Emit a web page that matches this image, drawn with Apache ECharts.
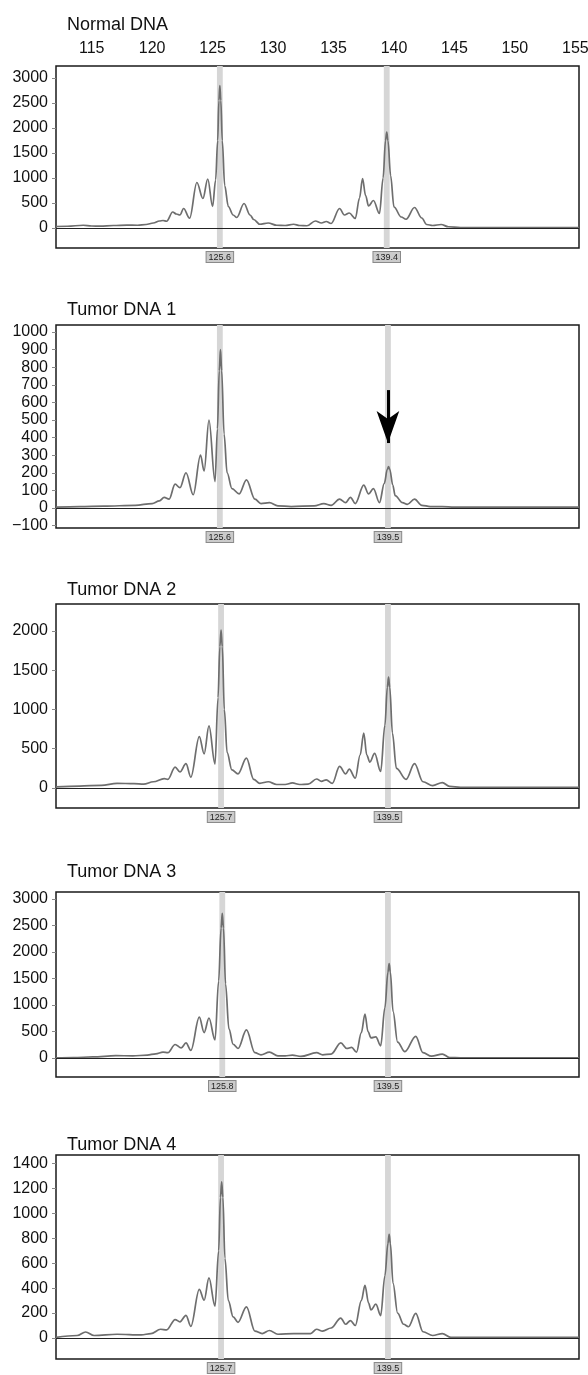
<!DOCTYPE html>
<html>
<head>
<meta charset="utf-8">
<title>Fragment analysis</title>
<script src="https://cdn.jsdelivr.net/npm/echarts@6/dist/echarts.min.js"></script>
<style>
  html, body { margin: 0; padding: 0; background: #fff; }
  #chart { width: 588px; height: 1375px; }
</style>
</head>
<body>
<div id="chart"></div>
<script>
// panel titles and the size axis (bp)
var titles = ['Normal DNA', 'Tumor DNA 1', 'Tumor DNA 2', 'Tumor DNA 3', 'Tumor DNA 4'];
var sizeTicks = [115, 120, 125, 130, 135, 140, 145, 150, 155];
var sizeMin = 112.05, sizeMax = 155.3;

// traces: [size (bp), signal (RFU)]
var normalDNA = [[112.05,30],[113.0,35],[114.3,55],[115.0,40],[115.7,38],[116.8,50],[117.9,58],[118.8,55],[119.5,70],[120.1,100],[120.6,140],[120.9,150],[121.2,135],[121.7,320],[122.0,280],[122.3,260],[122.6,390],[123.1,195],[123.7,910],[124.2,590],[124.6,980],[125.0,430],[125.25,960],[125.42,1750],[125.52,2550],[125.6,2850],[125.68,2550],[125.8,1750],[126.0,850],[126.3,430],[126.7,260],[127.0,210],[127.6,490],[128.1,260],[128.4,170],[128.9,75],[129.6,100],[130.3,55],[131.0,50],[131.7,75],[132.2,50],[132.8,45],[133.5,140],[134.0,100],[134.4,130],[134.8,90],[135.5,390],[135.9,260],[136.3,300],[136.8,190],[137.15,600],[137.4,990],[137.65,650],[137.9,440],[138.3,550],[138.8,290],[139.1,1000],[139.3,1750],[139.4,1920],[139.5,1750],[139.72,1050],[140.0,420],[140.6,220],[141.0,175],[141.7,410],[142.3,200],[142.7,70],[143.2,50],[143.9,70],[144.5,25],[145.5,10],[150.0,8],[155.3,8]];
var tumorDNA1 = [[112.05,5],[114.0,8],[116.0,10],[118.6,15],[120.0,25],[120.6,40],[121.0,60],[121.4,50],[121.9,135],[122.3,115],[122.8,200],[123.4,75],[124.0,300],[124.3,210],[124.7,500],[125.2,150],[125.4,450],[125.55,780],[125.65,900],[125.75,780],[125.95,420],[126.2,200],[126.6,110],[127.2,80],[127.8,160],[128.5,50],[129.0,25],[129.7,30],[130.4,12],[131.5,8],[133.4,12],[134.2,25],[134.8,15],[135.5,50],[136.0,30],[136.4,60],[136.8,25],[137.5,130],[137.9,80],[138.3,110],[138.8,30],[139.2,140],[139.45,220],[139.55,235],[139.65,220],[139.9,130],[140.1,70],[140.7,30],[141.1,20],[141.7,50],[142.3,15],[143.0,8],[144.0,8],[145.0,5],[155.3,5]];
var tumorDNA2 = [[112.05,15],[114.0,25],[115.8,35],[117.1,60],[118.5,55],[119.3,50],[120.1,80],[121.0,120],[121.3,110],[121.9,265],[122.3,205],[122.8,310],[123.2,140],[123.9,655],[124.3,435],[124.7,790],[125.2,305],[125.45,1150],[125.6,1800],[125.7,2010],[125.8,1800],[125.97,1000],[126.2,450],[126.6,230],[127.1,180],[127.8,380],[128.4,110],[128.9,60],[129.6,80],[130.3,45],[131.0,45],[131.6,65],[132.2,45],[132.9,50],[133.6,115],[134.0,85],[134.4,105],[134.9,60],[135.5,275],[136.0,180],[136.3,240],[136.8,125],[137.2,420],[137.5,700],[137.75,420],[138.0,330],[138.4,440],[138.9,210],[139.25,800],[139.45,1280],[139.55,1410],[139.65,1280],[139.87,700],[140.2,250],[141.0,110],[141.7,310],[142.4,80],[143.2,30],[144.0,70],[144.6,20],[145.5,8],[155.3,8]];
var tumorDNA3 = [[112.05,5],[113.5,10],[115.1,20],[117.0,45],[118.4,40],[119.6,55],[120.3,80],[120.9,110],[121.3,100],[121.9,255],[122.4,190],[122.8,285],[123.2,145],[123.9,770],[124.3,480],[124.7,755],[125.2,340],[125.5,1450],[125.7,2450],[125.8,2730],[125.9,2450],[126.07,1400],[126.35,550],[126.7,260],[127.1,180],[127.8,530],[128.5,100],[129.0,60],[129.7,110],[130.4,40],[131.0,40],[131.6,55],[132.3,30],[133.6,100],[134.1,60],[134.8,75],[135.6,285],[136.1,180],[136.5,200],[136.9,110],[137.3,480],[137.6,830],[137.85,500],[138.1,380],[138.5,400],[138.9,230],[139.25,950],[139.5,1620],[139.6,1780],[139.7,1620],[139.92,880],[140.3,300],[140.9,120],[141.8,410],[142.4,100],[143.1,35],[144.0,75],[144.6,10],[145.5,5],[155.3,5]];
var tumorDNA4 = [[112.05,5],[113.8,20],[114.5,48],[115.2,20],[117.1,30],[119.1,25],[119.9,35],[120.7,70],[121.2,65],[121.9,148],[122.3,130],[122.8,182],[123.2,93],[123.9,390],[124.3,303],[124.7,482],[125.2,255],[125.5,700],[125.65,1130],[125.75,1255],[125.85,1130],[126.02,640],[126.3,300],[126.7,170],[127.1,126],[127.8,250],[128.5,55],[129.1,35],[129.7,60],[130.4,30],[131.7,35],[133.1,35],[133.6,70],[134.1,55],[134.8,80],[135.6,160],[136.0,110],[136.4,140],[136.8,100],[137.3,300],[137.6,423],[137.9,280],[138.1,225],[138.5,272],[138.9,180],[139.25,500],[139.5,760],[139.6,832],[139.7,760],[139.92,440],[140.3,200],[140.8,110],[141.2,90],[141.8,198],[142.4,50],[143.2,20],[144.0,35],[144.7,5],[145.5,5],[155.3,5]];
var traces = [normalDNA, tumorDNA1, tumorDNA2, tumorDNA3, tumorDNA4];

// called peak sizes (grey bins with labels)
var peakCalls = [[125.6, 139.4], [125.6, 139.5], [125.7, 139.5], [125.8, 139.5], [125.7, 139.5]];

// y axis ticks and ranges per panel
var yTicks = [
  [0, 500, 1000, 1500, 2000, 2500, 3000],
  [-100, 0, 100, 200, 300, 400, 500, 600, 700, 800, 900, 1000],
  [0, 500, 1000, 1500, 2000],
  [0, 500, 1000, 1500, 2000, 2500, 3000],
  [0, 200, 400, 600, 800, 1000, 1200, 1400]
];
var yMin = [-400, -114, -254, -358, -169];
var yMax = [3240, 1040, 2341, 3132, 1470];

// arrow pointing at the reduced allele in Tumor DNA 1
var arrowFrom = [139.5, 670];
var arrowTo = [139.5, 369];

// layout (px)
var panelTop = [66, 325, 604, 892, 1155];
var panelHeight = [182, 203, 204, 185, 204];
var titleTop = [11, 296, 576, 858, 1131];

var chart = echarts.init(document.getElementById('chart'), null, { renderer: 'canvas' });

var font = 'Liberation Sans, Arial, Helvetica, sans-serif';
var grid = [], xAxis = [], yAxis = [], series = [], title = [];

titles.forEach(function (name, i) {
  title.push({
    text: name,
    left: 62,
    top: titleTop[i],
    textStyle: { fontSize: 18, fontWeight: 'normal', color: '#111', fontFamily: font }
  });
  grid.push({
    left: 56,
    right: 9,
    top: panelTop[i],
    height: panelHeight[i],
    outerBoundsMode: 'none',
    containLabel: false,
    show: true,
    borderColor: '#1a1a1a',
    borderWidth: 1.5,
    backgroundColor: '#fff'
  });
  xAxis.push({
    gridIndex: i,
    type: 'value',
    min: sizeMin,
    max: sizeMax,
    position: 'top',
    axisLine: { show: false },
    axisTick: { show: false },
    splitLine: { show: false },
    axisLabel: {
      show: i === 0,
      customValues: sizeTicks,
      margin: 9,
      fontSize: 16,
      color: '#111',
      fontFamily: font
    }
  });
  yAxis.push({
    gridIndex: i,
    type: 'value',
    min: yMin[i],
    max: yMax[i],
    axisLine: { show: false },
    splitLine: { show: false },
    axisTick: {
      show: true,
      length: 4,
      customValues: yTicks[i],
      lineStyle: { color: '#888', width: 1 }
    },
    axisLabel: {
      customValues: yTicks[i],
      margin: 8,
      fontSize: 16,
      color: '#111',
      fontFamily: font,
      formatter: function (v) { return v < 0 ? '\u2212' + Math.abs(v) : String(v); }
    }
  });

  // grey size bins, behind the trace
  series.push({
    name: name + ' bins',
    type: 'line',
    xAxisIndex: i,
    yAxisIndex: i,
    data: [],
    z: 1,
    silent: true,
    markArea: {
      silent: true,
      itemStyle: { color: '#d6d6d6' },
      label: {
        show: true,
        position: 'bottom',
        distance: 4,
        formatter: '{b}',
        fontSize: 9,
        color: '#222',
        fontFamily: font,
        backgroundColor: '#cbcbcb',
        borderColor: '#8a8a8a',
        borderWidth: 1,
        padding: [1, 2, 0, 2]
      },
      data: peakCalls[i].map(function (p) {
        return [{ xAxis: p - 0.24, name: p.toFixed(1) }, { xAxis: p + 0.24 }];
      })
    }
  });

  var lines = [{ yAxis: 0 }];
  if (i === 1) {
    lines.push([
      { coord: arrowFrom, symbol: 'none' },
      { coord: arrowTo, symbol: 'arrow', symbolSize: [17, 32],
        lineStyle: { color: '#000', width: 3 } }
    ]);
  }

  series.push({
    name: name,
    type: 'line',
    xAxisIndex: i,
    yAxisIndex: i,
    data: traces[i],
    smooth: 0.35,
    smoothMonotone: 'x',
    showSymbol: false,
    symbol: 'none',
    lineStyle: { color: '#6e6e6e', width: 1.7 },
    z: 3,
    markLine: {
      silent: true,
      symbol: 'none',
      animation: false,
      label: { show: false },
      lineStyle: { color: '#222', width: 1.2, type: 'solid' },
      data: lines
    }
  });
});

chart.setOption({
  animation: false,
  textStyle: { fontFamily: font },
  title: title,
  grid: grid,
  xAxis: xAxis,
  yAxis: yAxis,
  series: series
});
</script>
</body>
</html>
